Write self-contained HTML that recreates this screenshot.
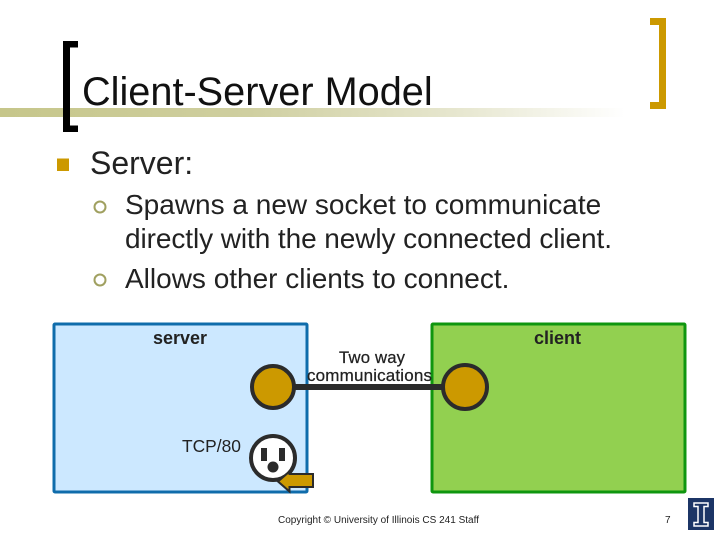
<!DOCTYPE html>
<html><head><meta charset="utf-8"><style>
html,body{margin:0;padding:0;background:#fff}
svg{display:block}
text{font-family:"Liberation Sans",sans-serif;fill:#222}
</style></head><body>
<svg width="720" height="540" viewBox="0 0 720 540" xmlns="http://www.w3.org/2000/svg">
<defs><linearGradient id="g" x1="0" x2="1" y1="0" y2="0"><stop offset="0" stop-color="#c6c68a"/><stop offset=".4" stop-color="#cfcfa0"/><stop offset=".75" stop-color="#e8e8d2"/><stop offset="1" stop-color="#fff"/></linearGradient></defs>
<rect x="0" y="108" width="625" height="9" fill="url(#g)"/>
<path d="M78 41H63V132H78V125.500H70V47.500H78Z" fill="#000"/>
<path d="M650 18H666V109H650V102H659V25H650Z" fill="#cc9900"/>
<text x="82" y="105" font-size="39.700" style="fill:#111">Client-Server Model</text>
<rect x="57" y="158.500" width="12" height="12.500" fill="#cc9900"/>
<text x="90" y="174" font-size="32">Server:</text>
<circle cx="100" cy="207" r="5.500" fill="none" stroke="#a0a060" stroke-width="2"/>
<circle cx="100" cy="280" r="5.500" fill="none" stroke="#a0a060" stroke-width="2"/>
<text x="125" y="214" font-size="28">Spawns a new socket to communicate</text>
<text x="125" y="248" font-size="28" textLength="487">directly with the newly connected client.</text>
<text x="125" y="288" font-size="28">Allows other clients to connect.</text>
<rect x="54" y="324" width="253" height="168" rx="1" fill="#cce8ff" stroke="#0f6cab" stroke-width="3"/>
<rect x="432" y="324" width="253" height="168" rx="1" fill="#92d050" stroke="#0f960f" stroke-width="3"/>
<text x="153" y="344" font-size="18" font-weight="bold">server</text>
<text x="534" y="344" font-size="18" font-weight="bold">client</text>
<text x="339" y="363" font-size="16.700" stroke="#222" stroke-width=".25" textLength="66">Two way</text>
<text x="307" y="381" font-size="17" stroke="#222" stroke-width=".25" textLength="125">communications</text>
<line x1="290" y1="387" x2="448" y2="387" stroke="#2b2b2b" stroke-width="6"/>
<circle cx="273" cy="387" r="21" fill="#cc9900" stroke="#2b2b2b" stroke-width="4"/>
<circle cx="465" cy="387" r="22" fill="#cc9900" stroke="#2b2b2b" stroke-width="4"/>
<text x="182" y="452" font-size="17.400">TCP/80</text>
<circle cx="273" cy="458" r="22" fill="#fff" stroke="#2b2b2b" stroke-width="4"/>
<rect x="261" y="448" width="6" height="13" fill="#2b2b2b"/>
<rect x="279" y="448" width="6" height="13" fill="#2b2b2b"/>
<circle cx="273" cy="467" r="5.500" fill="#2b2b2b"/>
<path d="M278 481.500L289.500 471.500V474H313V487H289.500V491.500Z" fill="#cc9900" stroke="#2b2b2b" stroke-width="2"/>
<text x="278" y="523" font-size="10" textLength="201">Copyright © University of Illinois CS 241 Staff</text>
<text x="665" y="523" font-size="10">7</text>
<rect x="688" y="498" width="26" height="32" fill="#1c3566"/>
<path d="M694 503H708V506.500H704V522.500H708V526H694V522.500H698V506.500H694Z" fill="#1c3566" stroke="#fff" stroke-width="1.500"/>
</svg>
</body></html>
